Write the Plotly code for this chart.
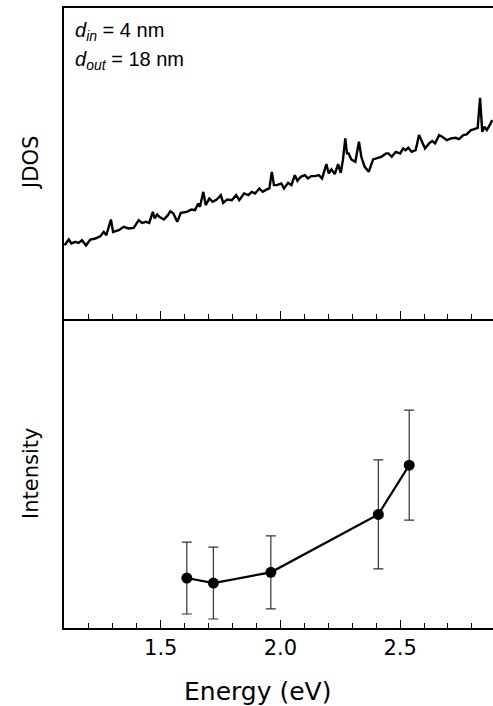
import plotly.graph_objects as go
from plotly.subplots import make_subplots

# ---- data ----
jdos_energy = [1.099, 1.116, 1.127, 1.143, 1.157, 1.171, 1.188, 1.206, 1.227, 1.248,
               1.262, 1.273, 1.292, 1.301, 1.325, 1.345, 1.366, 1.387, 1.408, 1.422,
               1.439, 1.452, 1.467, 1.475, 1.485, 1.494, 1.513, 1.530, 1.540, 1.553,
               1.569, 1.584, 1.609, 1.629, 1.643, 1.657, 1.664, 1.678, 1.688, 1.703,
               1.717, 1.734, 1.751, 1.761, 1.778, 1.797, 1.815, 1.828, 1.848, 1.866,
               1.880, 1.894, 1.912, 1.926, 1.943, 1.954, 1.964, 1.973, 1.985, 1.998,
               2.004, 2.015, 2.032, 2.046, 2.060, 2.071, 2.085, 2.102, 2.115, 2.129,
               2.146, 2.160, 2.174, 2.192, 2.202, 2.213, 2.227, 2.241, 2.252, 2.261,
               2.271, 2.278, 2.285, 2.296, 2.313, 2.328, 2.338, 2.352, 2.369, 2.387,
               2.405, 2.421, 2.442, 2.451, 2.465, 2.482, 2.500, 2.513, 2.523, 2.534,
               2.548, 2.565, 2.579, 2.590, 2.604, 2.621, 2.634, 2.646, 2.663, 2.676,
               2.695, 2.713, 2.732, 2.746, 2.764, 2.778, 2.796, 2.810, 2.824, 2.834,
               2.843, 2.852, 2.862, 2.876, 2.885]
jdos_value = [74.0, 79.7, 75.7, 77.3, 76.3, 79.0, 73.7, 79.7, 80.7, 83.0,
              87.3, 84.0, 99.7, 87.3, 89.0, 92.3, 90.7, 91.3, 99.0, 96.3,
              97.3, 96.3, 107.3, 100.7, 104.7, 102.3, 99.7, 104.0, 108.0, 105.7,
              97.3, 106.3, 107.3, 109.7, 109.0, 115.7, 112.3, 127.3, 114.0, 120.7,
              117.3, 119.7, 124.0, 116.3, 119.7, 119.0, 124.0, 119.0, 125.7, 124.0,
              127.3, 125.7, 130.7, 127.3, 129.7, 130.7, 147.3, 134.0, 134.0, 135.7,
              135.7, 130.7, 136.3, 134.0, 144.0, 138.3, 142.3, 144.0, 140.7, 143.0,
              143.0, 144.0, 140.7, 155.0, 145.7, 149.7, 145.0, 155.0, 146.3, 159.0,
              180.7, 165.7, 165.7, 159.7, 157.3, 177.3, 162.3, 152.3, 147.3, 159.7,
              160.7, 162.3, 165.7, 165.7, 162.3, 167.3, 165.7, 170.7, 169.0, 171.3,
              167.3, 169.0, 184.0, 177.3, 170.7, 175.7, 178.0, 175.7, 184.0, 182.3,
              179.0, 180.7, 181.3, 180.0, 184.0, 184.7, 189.0, 190.0, 191.3, 221.3,
              187.3, 192.3, 189.0, 194.7, 199.0]

int_energy = [1.609, 1.720, 1.960, 2.409, 2.538]
int_value = [50.0, 45.0, 55.7, 113.7, 163.0]
int_error = [36.0, 36.0, 36.5, 54.5, 55.0]

x_ticks = [1.5, 2.0, 2.5]
x_tick_text = ["1.5", "2.0", "2.5"]

FONT = "DejaVu Sans"

fig = make_subplots(rows=2, cols=1, shared_xaxes=True, vertical_spacing=0,
                    row_heights=[0.502, 0.498])

fig.add_trace(go.Scatter(x=jdos_energy, y=jdos_value, mode="lines",
                         line=dict(color="black", width=2.4), showlegend=False),
              row=1, col=1)

fig.add_trace(go.Scatter(x=int_energy, y=int_value, mode="lines+markers",
                         line=dict(color="black", width=2.2),
                         marker=dict(color="black", size=11),
                         error_y=dict(type="data", array=int_error, visible=True,
                                      color="#333333", thickness=1.2, width=5),
                         showlegend=False),
              row=2, col=1)

xcommon = dict(range=[1.096, 2.888], showgrid=False, zeroline=False,
               showline=True, linecolor="black", linewidth=1.5,
               ticks="inside", ticklen=8, tickwidth=1.3, tickcolor="black",
               tickvals=x_ticks, ticktext=x_tick_text,
               minor=dict(dtick=0.1, tick0=1.0, ticks="inside", ticklen=5,
                          tickwidth=1.1, tickcolor="black", showgrid=False))
fig.update_xaxes(**xcommon)
fig.update_xaxes(row=1, col=1, mirror=True, showticklabels=False)
fig.update_xaxes(row=2, col=1, showticklabels=True,
                 tickfont=dict(family=FONT, size=21, color="black"))

ycommon = dict(showgrid=False, zeroline=False, showline=True, linecolor="black",
               linewidth=1.5, ticks="", showticklabels=False)
fig.update_yaxes(**ycommon)
fig.update_yaxes(row=1, col=1, range=[0, 311])
fig.update_yaxes(row=2, col=1, range=[0, 309])

annos = [
    dict(text="Energy (eV)", x=0.451, y=-0.103, xref="paper", yref="paper",
         showarrow=False, xanchor="center", yanchor="middle",
         font=dict(family=FONT, size=25, color="black")),
    dict(text="JDOS", x=-0.077, y=0.75, xref="paper", yref="paper", textangle=-90,
         showarrow=False, xanchor="center", yanchor="middle",
         font=dict(family=FONT, size=21, color="black")),
    dict(text="Intensity", x=-0.077, y=0.25, xref="paper", yref="paper", textangle=-90,
         showarrow=False, xanchor="center", yanchor="middle",
         font=dict(family=FONT, size=21, color="black")),
    dict(text="<i>d</i><sub><i>in</i></sub> = 4 nm", x=0.021, y=0.962,
         xref="paper", yref="paper", showarrow=False, xanchor="left", yanchor="middle",
         font=dict(family="Liberation Sans", size=20, color="black")),
    dict(text="<i>d</i><sub><i>out</i></sub> = 18 nm", x=0.021, y=0.916,
         xref="paper", yref="paper", showarrow=False, xanchor="left", yanchor="middle",
         font=dict(family="Liberation Sans", size=20, color="black")),
]

fig.update_layout(width=493, height=706, margin=dict(l=64, r=0, t=8, b=78),
                  paper_bgcolor="white", plot_bgcolor="white",
                  annotations=annos, showlegend=False)

fig.write_html("out.html", config={"displayModeBar": False},
               post_script="document.body.style.margin='0';document.body.style.padding='0';document.body.style.overflow='hidden';")
